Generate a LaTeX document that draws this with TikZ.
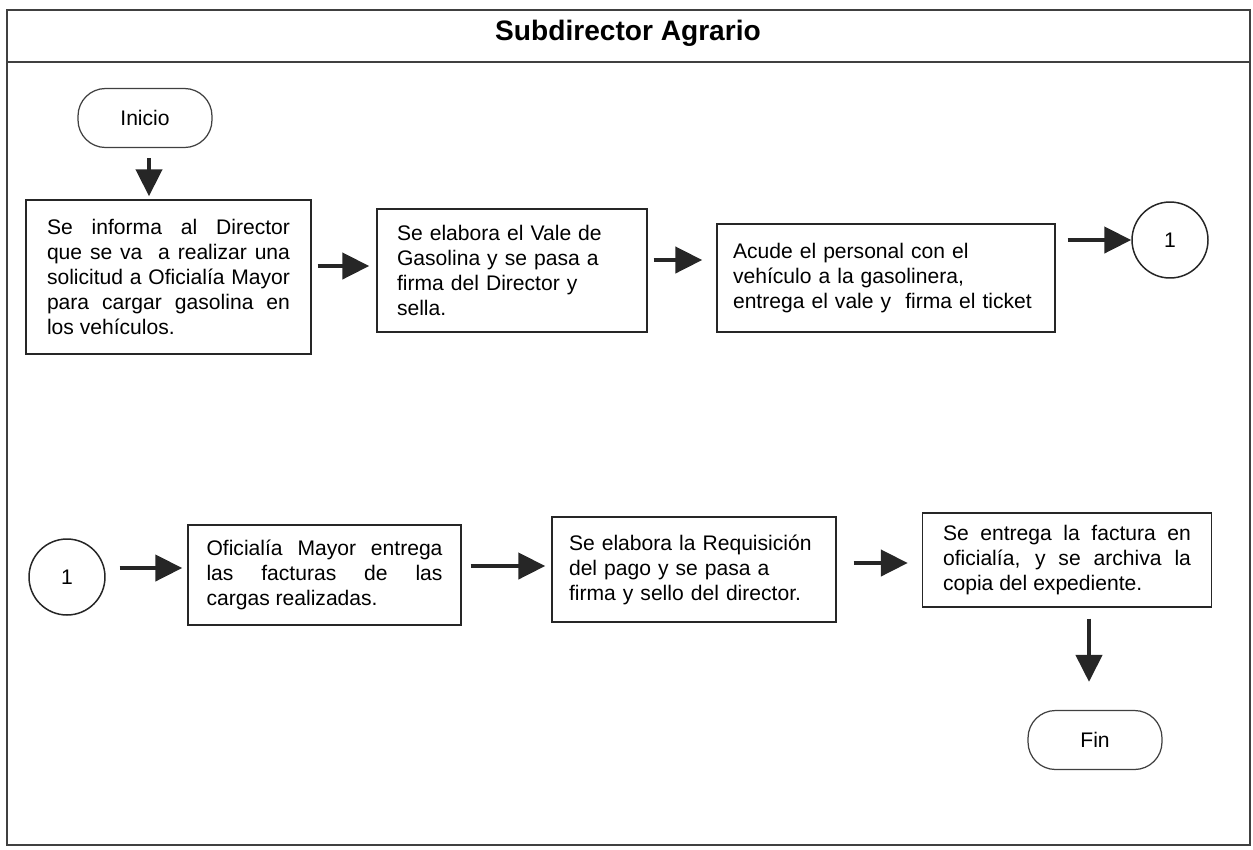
\documentclass[tikz,border=0pt]{standalone}
\usepackage{fontspec}
\setmainfont{Liberation Sans}
\usetikzlibrary{arrows.meta}

\tikzset{
  marco/.style={draw=black!75, line width=0.8pt},
  caja/.style={draw=black!85, line width=0.85pt, inner ysep=0pt,
    font=\fontsize{12}{14.2}\selectfont},
  terminal/.style={draw=black!75, line width=0.7pt, rounded corners=0.55cm,
    minimum width=2.68cm, minimum height=1.18cm, font=\fontsize{12}{14.2}\selectfont},
  conector/.style={circle, draw=black!85, line width=0.85pt, minimum size=1.52cm,
    inner sep=0pt, font=\fontsize{12}{14.2}\selectfont},
  flecha/.style={draw=black!85, line width=2.5pt, -{Triangle[length=0.54cm,width=0.52cm]}}
}

\begin{document}
\begin{tikzpicture}[x=0.02cm,y=-0.02cm]
  \useasboundingbox (0,0) rectangle (1253,849);

  % marco y encabezado
  \draw[marco] (7,10) rectangle (1250,845);
  \draw[marco] (7,62) -- (1250,62);
  \node[font=\fontsize{16}{19}\selectfont\bfseries] (titulo) at (628,33) {Subdirector Agrario};

  % primera fila
  \node[terminal] (inicio) at (145,118) {Inicio};
  \node[caja, align=justify, text width=4.86cm, inner xsep=0.42cm, minimum height=3.08cm] (paso1) at (168.5,277)
    {Se informa al Director\linebreak que se va\ \ a realizar una\linebreak solicitud a Oficialía Mayor\linebreak para cargar gasolina en\linebreak los vehículos.};
  \node[caja, align=left, text width=4.6cm, inner xsep=0.4cm, minimum height=2.46cm] (paso2) at (512,270.5)
    {Se elabora el Vale de\\ Gasolina y se pasa a\\ firma del Director y\\ sella.};
  \node[caja, align=left, text width=6.12cm, inner xsep=0.32cm, minimum height=2.16cm] (paso3) at (886,278)
    {Acude el personal con el\\ vehículo a la gasolinera,\\ entrega el vale y\ \ firma el ticket};
  \node[conector] (uno) at (1170,240) {1};

  % segunda fila
  \node[conector] (unob) at (67,577) {1};
  \node[caja, align=justify, text width=4.72cm, inner xsep=0.37cm, minimum height=2cm] (paso4) at (324.5,575)
    {Oficialía Mayor entrega\linebreak las facturas de las\linebreak cargas realizadas.};
  \node[caja, align=left, text width=5cm, inner xsep=0.34cm, minimum height=2.1cm] (paso5) at (694,569.5)
    {Se elabora la Requisición\\ del pago y se pasa a\\ firma y sello del director.};
  \node[caja, align=justify, text width=4.96cm, inner xsep=0.41cm, minimum height=1.88cm] (paso6) at (1067,560)
    {Se entrega la factura en\linebreak oficialía, y se archiva la\linebreak copia del expediente.};
  \node[terminal] (fin) at (1095,740) {Fin};

  % flechas
  \draw[flecha, shorten <=0.2cm, shorten >=0.06cm] (inicio.south -| 149,0) -- (paso1.north -| 149,0);
  \draw[flecha, shorten <=0.12cm, shorten >=0.14cm] (paso1.east |- 0,266) -- (paso2.west |- 0,266);
  \draw[flecha, shorten <=0.12cm, shorten >=0.28cm] (paso2.east |- 0,260) -- (paso3.west |- 0,260);
  \draw[flecha, shorten <=0.24cm] (paso3.east |- uno.west) -- (uno.west);
  \draw[flecha, shorten <=0.28cm, shorten >=0.1cm] (unob.east |- 0,568) -- (paso4.west |- 0,568);
  \draw[flecha, shorten <=0.18cm, shorten >=0.12cm] (paso4.east |- 0,566) -- (paso5.west |- 0,566);
  \draw[flecha, shorten <=0.34cm, shorten >=0.28cm] (paso5.east |- 0,563) -- (paso6.west |- 0,563);
  \draw[flecha, shorten <=0.22cm, shorten >=0.56cm] (paso6.south -| 1089,0) -- (fin.north -| 1089,0);
\end{tikzpicture}
\end{document}
